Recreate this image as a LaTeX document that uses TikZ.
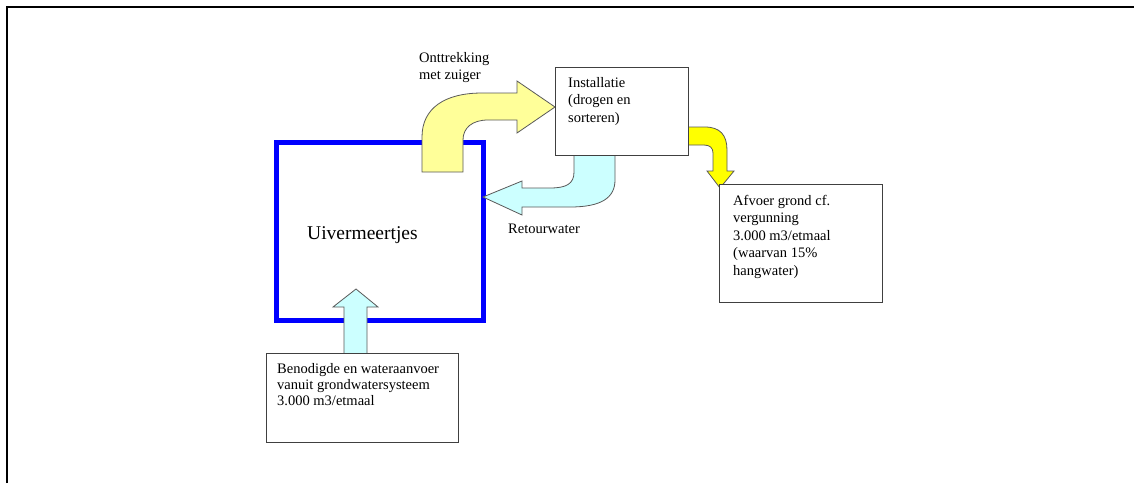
\documentclass[tikz,border=0pt]{standalone}
\usepackage{fontspec}
\setmainfont{Liberation Serif}
\definecolor{paleyellow}{HTML}{FFFF99}
\definecolor{brightyellow}{HTML}{FFFF00}
\definecolor{palecyan}{HTML}{CCFFFF}
\definecolor{lakeblue}{HTML}{0000FF}
\newcommand{\st}{\rule{0pt}{11pt}}
\begin{document}
\begin{tikzpicture}[x=1pt,y=-1pt,
  box/.style={draw=black!75, line width=0.9pt, fill=white, inner sep=0pt, anchor=north west},
  txt/.style={anchor=north west, inner sep=0pt, align=left, font=\fontsize{14.5}{17.5}\selectfont, text=black},
  blockarrow/.style={draw=black!65, line width=0.8pt, line join=miter}]
\useasboundingbox (0,0) rectangle (1138,483);
% outer frame (left and top edges)
\draw[line width=1.5pt] (7,483) -- (7,7) -- (1134,7);
% lake
\node[draw=lakeblue, line width=5pt, minimum width=207pt, minimum height=178pt, inner sep=0pt, anchor=north west] (lake) at (274,140) {};
\node[anchor=base west, inner sep=0pt, font=\fontsize{19.5}{21}\selectfont] (laketext) at (307,239) {Uivermeertjes};
% extraction arrow (pale yellow)
\draw[blockarrow, fill=paleyellow] (422,172) -- (422,137)
  .. controls (422,108) and (445,93) .. (482,93) -- (517,93) -- (517,81) -- (555,107)
  -- (517,133) -- (517,120) -- (488,120) .. controls (472,120) and (463,128) .. (463,140)
  -- (463,172) -- cycle;
% return water arrow (pale cyan)
\draw[blockarrow, fill=palecyan] (574,150) -- (574,172)
  .. controls (574,184) and (566,188) .. (550,188) -- (522,188) -- (522,181) -- (483,197)
  -- (522,215) -- (522,207) -- (570,207) .. controls (601,207) and (615,198) .. (615,180)
  -- (615,150) -- cycle;
% supply arrow (pale cyan, upward)
\draw[blockarrow, fill=palecyan] (344,356) -- (344,307) -- (333,307) -- (356,289)
  -- (378,307) -- (367,307) -- (367,356) -- cycle;
% discharge arrow (bright yellow)
\draw[blockarrow, fill=brightyellow] (684,127) -- (705,127)
  .. controls (720,127) and (727,135) .. (727,150) -- (727,171) -- (734,171) -- (720,188)
  -- (707,171) -- (713,171) -- (713,153) .. controls (713,148) and (710,145) .. (704,145)
  -- (684,145) -- cycle;
% boxes
\node[box, minimum width=133pt, minimum height=88pt] (inst) at (555,67) {};
\node[box, minimum width=163pt, minimum height=118pt] (afvoer) at (719,184) {};
\node[box, minimum width=192pt, minimum height=89pt] (aanvoer) at (266,353) {};
% texts
\node[txt] (onttr) at (419,51) {\st Onttrekking\\met zuiger};
\node[txt] (insttext) at (568,76) {\st Installatie\\(drogen en\\sorteren)};
\node[txt] (afvoertext) at (733,194) {\st Afvoer grond cf.\\vergunning\\3.000 m3/etmaal\\(waarvan 15\%\\hangwater)};
\node[txt, font=\fontsize{14.5}{16}\selectfont] (aanvoertext) at (277,362) {\st Benodigde en wateraanvoer\\vanuit grondwatersysteem\\3.000 m3/etmaal};
\node[anchor=base west, inner sep=0pt, font=\fontsize{14.5}{17.5}\selectfont] (retour) at (508,233) {Retourwater};
\end{tikzpicture}
\end{document}
